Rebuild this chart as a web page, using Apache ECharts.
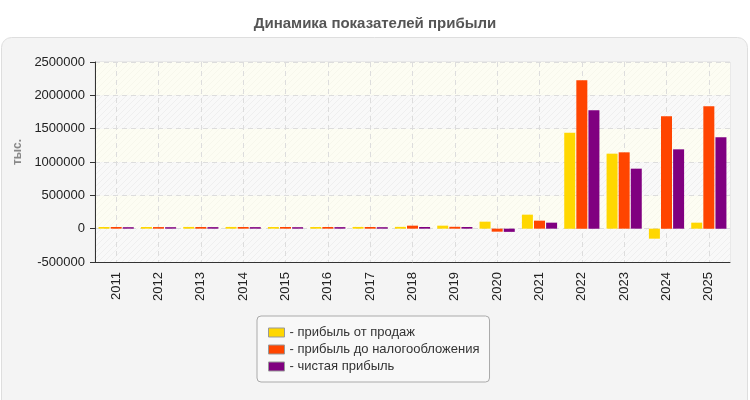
<!DOCTYPE html>
<html>
<head>
<meta charset="utf-8">
<script src="https://cdn.jsdelivr.net/npm/echarts@6/dist/echarts.min.js"></script>
<style>
  html, body { margin: 0; padding: 0; background: #fff; }
  #chart { width: 750px; height: 400px; }
</style>
</head>
<body>
<div id="chart"></div>
<script>
const years = ['2011', '2012', '2013', '2014', '2015', '2016', '2017', '2018', '2019', '2020', '2021', '2022', '2023', '2024', '2025']
const salesProfit = [25000, 25000, 26000, 26000, 25000, 25000, 26000, 27000, 45000, 105000, 210000, 1440000, 1125000, -150000, 90000]
const pretaxProfit = [25000, 24000, 25000, 25000, 25000, 25000, 25000, 45000, 28000, -45000, 120000, 2225000, 1145000, 1685000, 1835000]
const netProfit = [22000, 22000, 23000, 23000, 22000, 23000, 22000, 25000, 25000, -48000, 90000, 1775000, 900000, 1190000, 1370000]
const seriesNames = ['прибыль от продаж', 'прибыль до налогообложения', 'чистая прибыль']
const seriesColors = ['#FFD700', '#FF4500', '#800080']
const yTicks = { min: -500000, max: 2500000, interval: 500000 }

// diagonal hatch for the plot bands
function hatch (bg, line) {
  const c = document.createElement('canvas')
  c.width = 6
  c.height = 6
  const ctx = c.getContext('2d')
  ctx.fillStyle = bg
  ctx.fillRect(0, 0, 6, 6)
  ctx.strokeStyle = line
  ctx.lineWidth = 1
  ctx.beginPath()
  ctx.moveTo(-1, 7); ctx.lineTo(7, -1)
  ctx.moveTo(-1, 1); ctx.lineTo(1, -1)
  ctx.moveTo(5, 7); ctx.lineTo(7, 5)
  ctx.stroke()
  return { image: c, repeat: 'repeat' }
}

const chart = echarts.init(document.getElementById('chart'))
const option = {
  animation: false,
  title: {
    text: 'Динамика показателей прибыли',
    left: 'center',
    top: 11,
    textStyle: { fontFamily: 'Liberation Sans', fontSize: 15, fontWeight: 'bold', color: '#555' }
  },
  graphic: [{
    type: 'rect',
    z: -10,
    shape: { x: 1.5, y: 37.5, width: 746, height: 420, r: 10 },
    style: { fill: '#f4f4f4', stroke: '#dedede', lineWidth: 1 }
  }],
  legend: {
    orient: 'vertical',
    left: 257,
    top: 316,
    padding: [10, 10, 9, 11],
    itemGap: 4,
    itemWidth: 16,
    itemHeight: 9,
    icon: 'rect',
    backgroundColor: '#f8f8f8',
    borderColor: '#aaa',
    borderWidth: 1,
    borderRadius: 4,
    data: seriesNames,
    formatter: name => '- ' + name,
    itemStyle: { borderColor: '#999', borderWidth: 1 },
    textStyle: { fontFamily: 'Liberation Sans', fontSize: 13, color: '#333' }
  },
  grid: {
    left: 95,
    right: 20,
    top: 62,
    bottom: 138,
    show: true,
    borderColor: '#ddd',
    borderWidth: 1,
    backgroundColor: 'transparent'
  },
  xAxis: {
    type: 'category',
    data: years,
    axisLine: { onZero: false, lineStyle: { color: '#333', width: 1 } },
    axisTick: { alignWithLabel: true, length: 5, lineStyle: { color: '#333' } },
    axisLabel: { rotate: 90, fontFamily: 'Liberation Sans', fontSize: 13, color: '#222', margin: 10 },
    splitLine: { show: true, alignWithLabel: true, lineStyle: { color: '#ddd', type: [5, 4] } }
  },
  yAxis: {
    type: 'value',
    min: yTicks.min,
    max: yTicks.max,
    interval: yTicks.interval,
    name: 'тыс.',
    nameLocation: 'middle',
    nameGap: 70,
    nameTextStyle: { fontFamily: 'Liberation Sans', fontSize: 12, fontWeight: 'bold', color: '#888', padding: [0, 0, 0, 20] },
    axisLine: { show: true, lineStyle: { color: '#333', width: 1 } },
    axisTick: { show: true, length: 5, lineStyle: { color: '#333' } },
    axisLabel: { fontFamily: 'Liberation Sans', fontSize: 13, color: '#222', margin: 10, formatter: v => String(v) },
    splitLine: { show: true, lineStyle: { color: '#ddd', type: [5, 4] } },
    splitArea: {
      show: true,
      areaStyle: { color: [hatch('#f9f9f9', '#efefef'), hatch('#fdfdf3', '#f7f7ec')] }
    }
  },
  series: [
    {
      name: seriesNames[0],
      type: 'bar',
      barWidth: 11,
      barGap: '10%',
      itemStyle: { color: seriesColors[0] },
      data: salesProfit
    },
    {
      name: seriesNames[1],
      type: 'bar',
      barWidth: 11,
      barGap: '10%',
      itemStyle: { color: seriesColors[1] },
      data: pretaxProfit
    },
    {
      name: seriesNames[2],
      type: 'bar',
      barWidth: 11,
      barGap: '10%',
      itemStyle: { color: seriesColors[2] },
      data: netProfit
    }
  ]
}
chart.setOption(option)
</script>
</body>
</html>
